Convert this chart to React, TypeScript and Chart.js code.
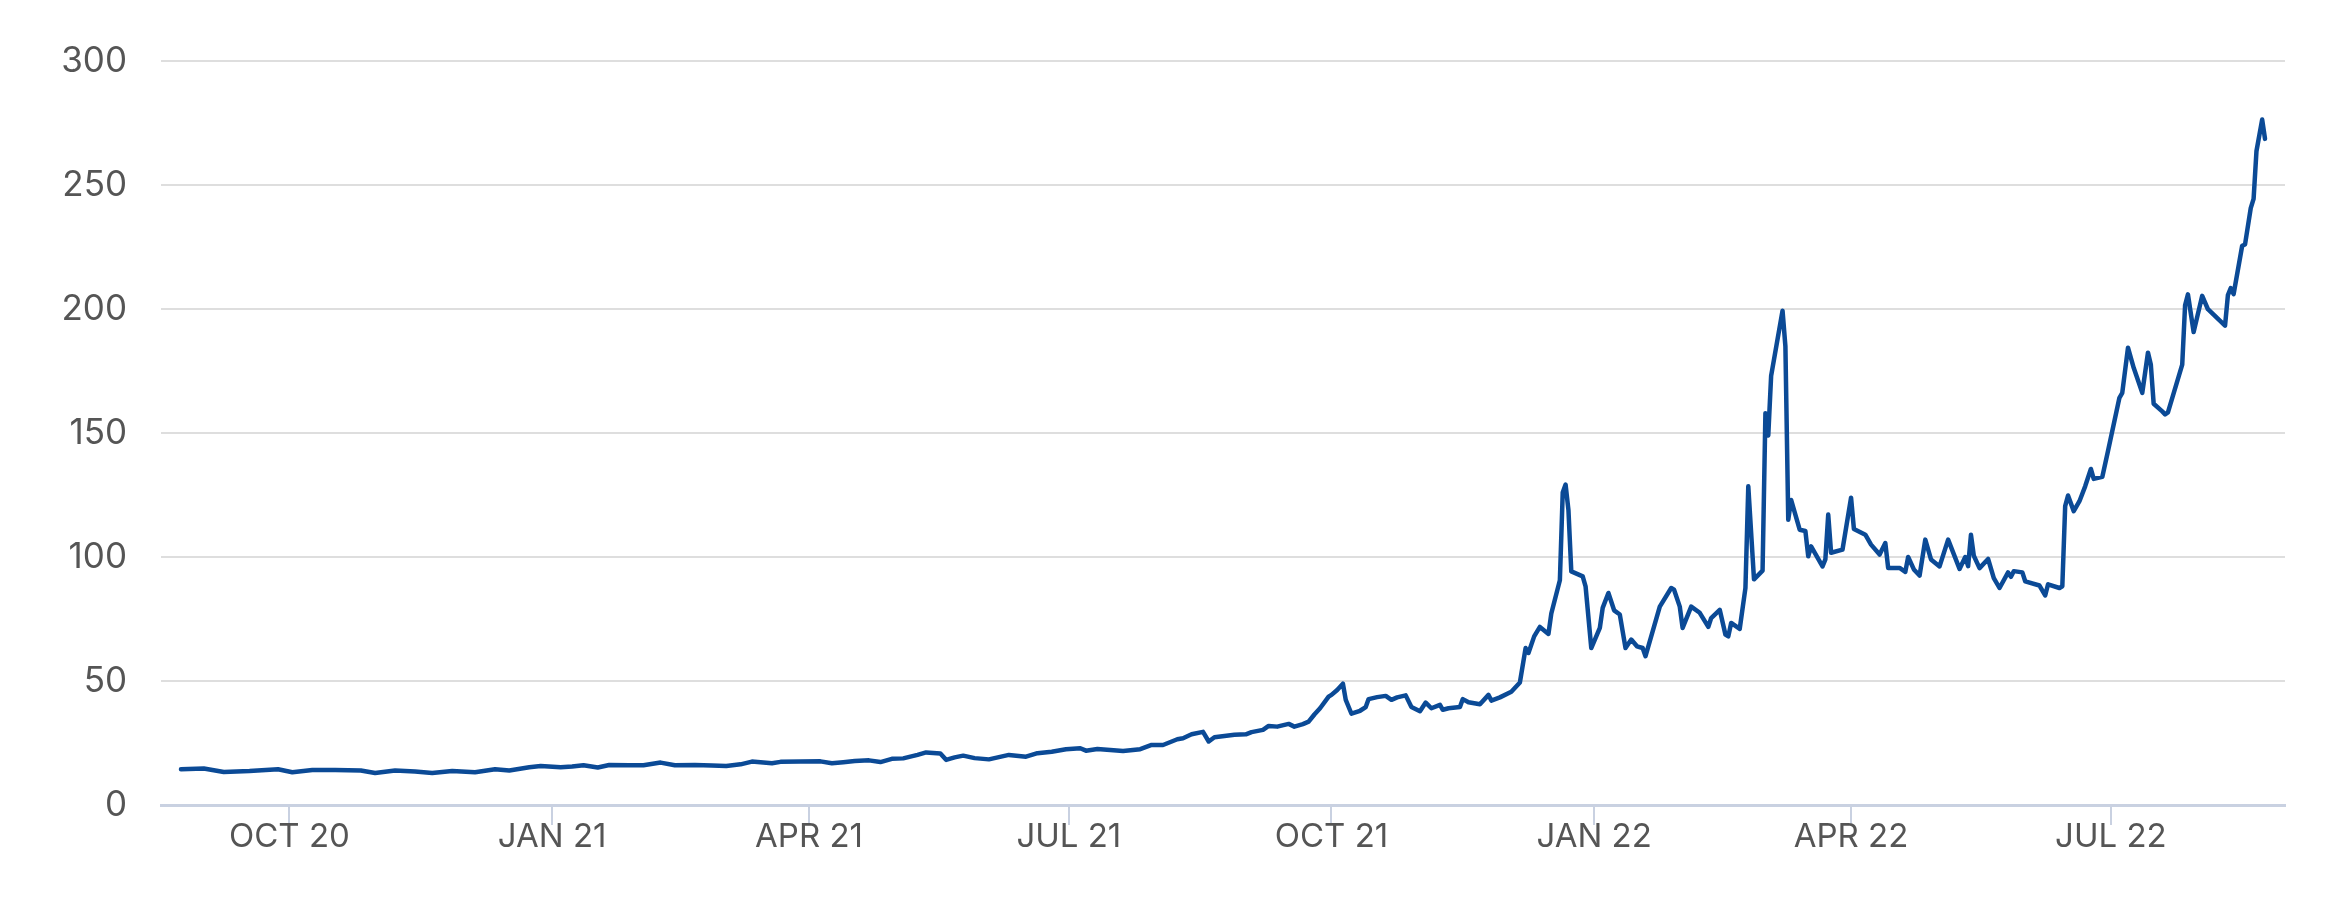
import React, { useEffect, useRef } from "react";
import { Chart, registerables } from "chart.js";

Chart.register(...registerables);

const dates: string[] = [
  "2020-08-24","2020-09-01","2020-09-08","2020-09-17","2020-09-27","2020-10-02","2020-10-09","2020-10-17","2020-10-26","2020-10-31",
  "2020-11-07","2020-11-14","2020-11-20","2020-11-27","2020-12-05","2020-12-12","2020-12-17","2020-12-24","2020-12-28","2021-01-04",
  "2021-01-08","2021-01-12","2021-01-17","2021-01-21","2021-01-28","2021-02-02","2021-02-08","2021-02-13","2021-02-20","2021-02-26",
  "2021-03-03","2021-03-08","2021-03-12","2021-03-19","2021-03-22","2021-03-29","2021-04-05","2021-04-09","2021-04-13","2021-04-17",
  "2021-04-22","2021-04-26","2021-04-30","2021-05-04","2021-05-09","2021-05-12","2021-05-17","2021-05-19","2021-05-22","2021-05-25",
  "2021-05-29","2021-06-03","2021-06-10","2021-06-16","2021-06-20","2021-06-25","2021-06-30","2021-07-05","2021-07-07","2021-07-11",
  "2021-07-20","2021-07-26","2021-07-30","2021-08-03","2021-08-08","2021-08-10","2021-08-13","2021-08-17","2021-08-19","2021-08-21",
  "2021-08-28","2021-09-01","2021-09-03","2021-09-07","2021-09-09","2021-09-12","2021-09-16","2021-09-18","2021-09-21","2021-09-23",
  "2021-09-25","2021-09-27","2021-09-30","2021-10-01","2021-10-03","2021-10-05","2021-10-06","2021-10-08","2021-10-11","2021-10-13",
  "2021-10-14","2021-10-17","2021-10-20","2021-10-22","2021-10-24","2021-10-27","2021-10-29","2021-11-01","2021-11-03","2021-11-05",
  "2021-11-08","2021-11-09","2021-11-11","2021-11-15","2021-11-16","2021-11-18","2021-11-22","2021-11-25","2021-11-26","2021-11-29",
  "2021-12-03","2021-12-06","2021-12-08","2021-12-09","2021-12-11","2021-12-13","2021-12-16","2021-12-17","2021-12-20","2021-12-21",
  "2021-12-22","2021-12-23","2021-12-24","2021-12-28","2021-12-29","2021-12-31","2022-01-03","2022-01-04","2022-01-06","2022-01-08",
  "2022-01-10","2022-01-12","2022-01-14","2022-01-16","2022-01-18","2022-01-19","2022-01-24","2022-01-28","2022-01-29","2022-01-31",
  "2022-02-01","2022-02-04","2022-02-07","2022-02-10","2022-02-11","2022-02-14","2022-02-16","2022-02-17","2022-02-18","2022-02-21",
  "2022-02-23","2022-02-24","2022-02-26","2022-03-01","2022-03-02","2022-03-03","2022-03-04","2022-03-08","2022-03-09","2022-03-10",
  "2022-03-11","2022-03-14","2022-03-16","2022-03-17","2022-03-18","2022-03-22","2022-03-23","2022-03-24","2022-03-25","2022-03-29",
  "2022-04-01","2022-04-02","2022-04-06","2022-04-08","2022-04-11","2022-04-13","2022-04-14","2022-04-18","2022-04-20","2022-04-21",
  "2022-04-23","2022-04-25","2022-04-27","2022-04-29","2022-05-02","2022-05-05","2022-05-09","2022-05-11","2022-05-12","2022-05-13",
  "2022-05-14","2022-05-16","2022-05-19","2022-05-21","2022-05-23","2022-05-26","2022-05-27","2022-05-28","2022-05-31","2022-06-01",
  "2022-06-06","2022-06-08","2022-06-09","2022-06-13","2022-06-14","2022-06-15","2022-06-16","2022-06-18","2022-06-20","2022-06-22",
  "2022-06-24","2022-06-25","2022-06-28","2022-06-30","2022-07-04","2022-07-05","2022-07-07","2022-07-09","2022-07-12","2022-07-14",
  "2022-07-15","2022-07-16","2022-07-19","2022-07-20","2022-07-21","2022-07-26","2022-07-27","2022-07-28","2022-07-30","2022-08-02",
  "2022-08-04","2022-08-06","2022-08-10","2022-08-11","2022-08-12","2022-08-13","2022-08-16","2022-08-17","2022-08-19","2022-08-20",
  "2022-08-21","2022-08-23","2022-08-24",
];

const values: number[] = [
  14.4,14.7,13.3,13.7,14.4,13.2,14.1,14.1,13.9,12.9,
  13.9,13.5,12.9,13.7,13.2,14.4,13.9,15.2,15.7,15.2,
  15.5,16.0,15.1,16.1,16.0,16.0,17.1,16.0,16.1,15.9,
  15.7,16.4,17.5,16.8,17.4,17.5,17.6,16.8,17.2,17.7,
  18.0,17.3,18.6,18.8,20.2,21.2,20.8,18.2,19.2,19.9,
  18.9,18.4,20.2,19.5,20.9,21.5,22.5,22.9,21.9,22.6,
  21.8,22.5,24.2,24.2,26.5,26.9,28.5,29.5,25.6,27.3,
  28.3,28.5,29.4,30.3,31.9,31.6,32.7,31.6,32.6,33.6,
  36.5,39.0,43.7,44.4,46.4,48.9,42.4,36.8,38.0,39.5,
  42.7,43.5,44.0,42.4,43.4,44.2,39.5,37.8,41.3,39.0,
  40.4,38.4,39.0,39.5,42.7,41.4,40.6,44.4,42.1,43.4,
  45.7,49.4,63.3,61.3,68.0,71.8,69.0,77.2,90.6,126.0,
  129.2,119.0,94.2,92.2,88.2,63.3,71.4,79.5,85.5,78.5,
  76.8,63.3,66.7,64.0,63.3,60.0,80.0,87.5,86.8,80.0,
  71.4,80.0,77.5,71.8,75.4,78.7,68.7,68.0,73.4,71.0,
  87.5,128.5,91.0,94.5,158.0,149.0,173.0,199.3,185.0,115.0,
  123.0,111.0,110.5,100.3,104.3,96.2,99.0,117.1,101.7,103.0,
  123.9,111.3,109.0,105.0,101.0,105.6,95.6,95.6,94.0,100.0,
  95.0,92.5,107.0,99.0,96.2,107.0,95.2,100.0,96.3,109.0,
  100.5,95.5,99.2,91.5,87.5,93.8,92.0,94.3,93.8,90.2,
  88.5,84.5,89.0,87.5,88.2,120.5,124.8,118.5,122.5,128.5,
  135.5,131.5,132.3,142.7,164.2,166.2,184.4,176.3,166.2,182.4,
  177.6,161.8,158.7,157.5,158.3,177.6,201.5,205.9,190.7,205.3,
  199.9,197.7,193.3,205.6,208.4,206.0,225.5,226.0,240.7,244.4,
  263.6,276.4,268.6,
];

const tickDates: string[] = ["2020-10-01","2021-01-01","2021-04-01","2021-07-01","2021-10-01","2022-01-01","2022-04-01","2022-07-01"];
const tickLabels: string[] = ["OCT 20","JAN 21","APR 21","JUL 21","OCT 21","JAN 22","APR 22","JUL 22"];
const axisStart = "2020-08-17";
const axisEnd = "2022-08-31";
const yMin = 0;
const yMax = 300;
const yStep = 50;

const dayNum = (s: string) =>
  Date.UTC(+s.slice(0, 4), +s.slice(5, 7) - 1, +s.slice(8, 10)) / 86400000;

export default function App() {
  const ref = useRef<HTMLCanvasElement>(null);

  useEffect(() => {
    if (!ref.current) return;
    const tickDays = tickDates.map(dayNum);
    const chart = new Chart(ref.current, {
      type: "line",
      data: {
        datasets: [
          {
            data: dates.map((d, i) => ({ x: dayNum(d), y: values[i] })),
            borderColor: "#0b4a96",
            borderWidth: 4.5,
            pointRadius: 0,
            tension: 0,
            fill: false,
            borderJoinStyle: "round",
            borderCapStyle: "round",
          },
        ],
      },
      options: {
        animation: false,
        responsive: false,
        maintainAspectRatio: false,
        layout: { padding: { top: 61, right: 57, left: 0, bottom: 0 } },
        plugins: { legend: { display: false }, tooltip: { enabled: false } },
        scales: {
          x: {
            type: "linear",
            min: dayNum(axisStart),
            max: dayNum(axisEnd),
            afterBuildTicks: (scale: any) => {
              scale.ticks = tickDays.map((v) => ({ value: v }));
            },
            afterFit: (scale: any) => {
              scale.height = 95;
            },
            ticks: {
              autoSkip: false,
              maxRotation: 0,
              padding: -8,
              color: "#555555",
              font: { family: "Inter", size: 33 },
              callback: (value: any) => {
                const i = tickDays.indexOf(value);
                return i >= 0 ? tickLabels[i] : "";
              },
            },
            grid: {
              drawOnChartArea: false,
              drawTicks: true,
              tickLength: 20,
              color: "#c9d1e1",
              lineWidth: 2,
            },
            border: { display: true, color: "#c9d1e1", width: 3 },
          },
          y: {
            type: "linear",
            min: yMin,
            max: yMax,
            afterFit: (scale: any) => {
              scale.width = 161;
            },
            ticks: {
              stepSize: yStep,
              padding: 0,
              color: "#555555",
              font: { family: "Inter", size: 35 },
            },
            grid: {
              drawTicks: true,
              tickLength: 34,
              tickColor: "rgba(0,0,0,0)",
              color: "#dedede",
              lineWidth: 2,
            },
            border: { display: false },
          },
        },
      },
    });
    return () => chart.destroy();
  }, []);

  return (
    <div style={{ position: "absolute", left: 0, top: 0, width: 2342, height: 900, background: "#ffffff" }}>
      <canvas ref={ref} width={2342} height={900} style={{ display: "block" }} />
    </div>
  );
}
